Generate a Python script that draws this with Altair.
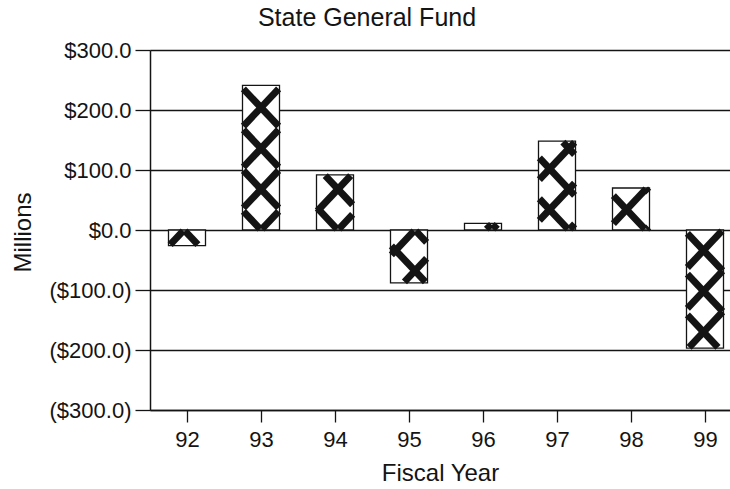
import math
import altair as alt
import pandas as pd

# Fiscal years and year-end general fund balance change (millions of dollars)
years = [92, 93, 94, 95, 96, 97, 98, 99]
balances = [-26, 241, 92, -88, 11, 148, 70, -197]

y_ticks = [-300, -200, -100, 0, 100, 200, 300]

FONT = "Liberation Sans"
INK = "#141414"

# Bar half-width in year units, and the crosshatch cell (years x millions)
HALF = 0.25
CELL_W = 0.52
CELL_H = 68.0
INSET_X = 0.012
INSET_Y = 1.5

bars = pd.DataFrame({"year": years, "balance": balances})


def hatch_segments(year, value):
    """Clip the two diagonal line families of the crosshatch to one bar."""
    x0, x1 = year - HALF + INSET_X, year + HALF - INSET_X
    lo, hi = sorted((0.0, float(value)))
    y0, y1 = lo + INSET_Y, hi - INSET_Y
    if y1 <= y0:
        return []
    # normalised pattern coordinates, phase anchored at (93, 0)
    u0, u1 = (x0 - 93) / CELL_W, (x1 - 93) / CELL_W
    v0, v1 = y0 / CELL_H, y1 / CELL_H
    segs = []
    # family u + v = k
    for k in range(math.ceil(u0 + v0) - 1, math.floor(u1 + v1) + 2):
        a, b = max(u0, k - v1), min(u1, k - v0)
        if b > a:
            segs.append((a, k - a, b, k - b))
    # family u - v = k
    for k in range(math.ceil(u0 - v1) - 1, math.floor(u1 - v0) + 2):
        a, b = max(u0, k + v0), min(u1, k + v1)
        if b > a:
            segs.append((a, a - k, b, b - k))
    return [
        {"x": 93 + ua * CELL_W, "y": va * CELL_H,
         "x2": 93 + ub * CELL_W, "y2": vb * CELL_H}
        for ua, va, ub, vb in segs
    ]


hatch = pd.DataFrame(
    [s for yr, v in zip(years, balances) for s in hatch_segments(yr, v)]
)

x_scale = alt.Scale(domain=[91.5, 91.5 + 580 / 74], nice=False, zero=False)
y_scale = alt.Scale(domain=[-300, 300], nice=False)

label_expr = (
    "datum.value < 0 ? '($' + format(-datum.value, ',.1f') + ')' "
    ": '$' + format(datum.value, ',.1f')"
)

x_axis = alt.Axis(
    values=years, format="d", title="Fiscal Year", grid=False,
    tickSize=12, tickColor=INK, tickWidth=1.3, labelPadding=7,
    domainColor=INK, domainWidth=1.5, labelFlush=False,
    titleY=70, titleBaseline="alphabetic",
)
y_axis = alt.Axis(
    values=y_ticks, labelExpr=label_expr, title="Millions",
    grid=True, gridColor=INK, gridWidth=1.3, gridOpacity=1,
    tickSize=15, tickColor=INK, tickWidth=1.3, labelPadding=4,
    domainColor=INK, domainWidth=1.5,
    titleX=-120, titleY=182, titleAngle=-90, titleAlign="center",
    titleBaseline="alphabetic",
)

base = alt.Chart(bars).transform_calculate(
    left=f"datum.year - {HALF}", right=f"datum.year + {HALF}"
)

fill = base.mark_rect(fill="white").encode(
    x=alt.X("left:Q", scale=x_scale, axis=x_axis),
    x2="right:Q",
    y=alt.Y("balance:Q", scale=y_scale, axis=y_axis),
    y2=alt.datum(0),
)

lines = alt.Chart(hatch).mark_rule(color=INK, strokeWidth=7).encode(
    x=alt.X("x:Q", scale=x_scale),
    x2="x2:Q",
    y=alt.Y("y:Q", scale=y_scale),
    y2="y2:Q",
)

outline = base.mark_rect(fill=None, stroke=INK, strokeWidth=1.3).encode(
    x=alt.X("left:Q", scale=x_scale),
    x2="right:Q",
    y=alt.Y("balance:Q", scale=y_scale),
    y2=alt.datum(0),
)

chart = (
    alt.layer(fill, lines, outline)
    .properties(
        width=580,
        height=360,
        padding={"left": 150, "top": 50, "right": 0, "bottom": 79},
        autosize=alt.AutoSizeParams(type="none"),
        title=alt.TitleParams(
            "State General Fund", font=FONT, fontSize=25, fontWeight="normal",
            color=INK, anchor="middle", frame="group", dx=-73, offset=-12,
            baseline="alphabetic",
        ),
    )
    .configure(background="white")
    .configure_view(stroke=None)
    .configure_axis(
        labelFont=FONT, labelFontSize=22, labelColor=INK,
        titleFont=FONT, titleFontSize=24, titleFontWeight="normal",
        titleColor=INK,
    )
)

chart.save("out.html", embed_options={"renderer": "svg", "actions": False})
